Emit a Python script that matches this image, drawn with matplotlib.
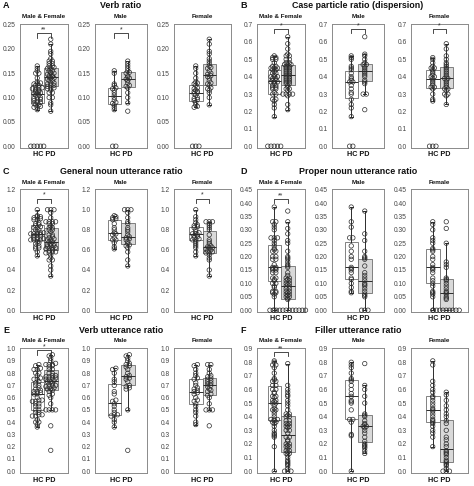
import numpy as np
import matplotlib.pyplot as plt

plt.rcParams['font.family'] = ['Liberation Sans', 'DejaVu Sans']

# ---- data ----
# A Verb ratio
verb_male_hc = [0.155, 0.150, 0.128, 0.125, 0.120, 0.118, 0.115, 0.110, 0.105, 0.100,
                0.095, 0.090, 0.088, 0.085, 0.080, 0.075, 0, 0]
verb_male_pd = [0.175, 0.170, 0.165, 0.160, 0.155, 0.152, 0.150, 0.145, 0.142, 0.140,
                0.138, 0.135, 0.130, 0.125, 0.123, 0.120, 0.110, 0.100, 0.089, 0.072]
verb_female_hc = [0.165, 0.160, 0.150, 0.140, 0.132, 0.130, 0.128, 0.125, 0.120, 0.118,
                  0.115, 0.113, 0.112, 0.110, 0.108, 0.105, 0.100, 0.098, 0.096, 0.094,
                  0.090, 0.085, 0.082, 0.080, 0, 0, 0]
verb_female_pd = [0.220, 0.210, 0.195, 0.190, 0.180, 0.175, 0.170, 0.165, 0.162, 0.160,
                  0.155, 0.150, 0.148, 0.145, 0.143, 0.140, 0.135, 0.130, 0.128, 0.125,
                  0.120, 0.118, 0.115, 0.110, 0.100, 0.085]

# B Case particle ratio (dispersion)
case_male_hc = [0.52, 0.51, 0.50, 0.46, 0.45, 0.44, 0.42, 0.40, 0.39, 0.38, 0.37, 0.37,
                0.35, 0.33, 0.31, 0.30, 0.27, 0.24, 0.22, 0.17, 0, 0]
case_male_pd = [0.63, 0.53, 0.52, 0.50, 0.48, 0.47, 0.47, 0.46, 0.45, 0.44, 0.43, 0.42,
                0.41, 0.40, 0.38, 0.37, 0.36, 0.30, 0.30, 0.21]
case_female_hc = [0.51, 0.50, 0.48, 0.46, 0.45, 0.45, 0.44, 0.43, 0.42, 0.41, 0.40, 0.40,
                  0.39, 0.38, 0.37, 0.36, 0.35, 0.34, 0.34, 0.33, 0.30, 0.27, 0.26, 0, 0, 0]
case_female_pd = [0.59, 0.56, 0.52, 0.50, 0.48, 0.47, 0.46, 0.45, 0.44, 0.43, 0.42, 0.41,
                  0.40, 0.39, 0.39, 0.38, 0.37, 0.36, 0.35, 0.34, 0.33, 0.33, 0.32, 0.30,
                  0.30, 0.29, 0.24]

# C General noun utterance ratio
noun_male_hc = [0.94, 0.93, 0.92, 0.91, 0.90, 0.86, 0.82, 0.80, 0.77, 0.76, 0.75, 0.72,
                0.70, 0.70, 0.67, 0.63, 0.61]
noun_male_pd = [1.0, 1.0, 1.0, 0.97, 0.92, 0.88, 0.86, 0.82, 0.80, 0.78, 0.75, 0.73,
                0.72, 0.71, 0.70, 0.68, 0.66, 0.65, 0.64, 0.62, 0.58, 0.50, 0.44]
noun_female_hc = [1.0, 0.93, 0.90, 0.87, 0.85, 0.84, 0.83, 0.82, 0.80, 0.78, 0.77, 0.76,
                  0.76, 0.75, 0.74, 0.73, 0.72, 0.71, 0.70, 0.70, 0.68, 0.66, 0.64, 0.62,
                  0.58, 0.54]
noun_female_pd = [0.88, 0.88, 0.88, 0.86, 0.84, 0.82, 0.80, 0.75, 0.70, 0.68, 0.66, 0.64,
                  0.63, 0.62, 0.62, 0.61, 0.60, 0.59, 0.58, 0.57, 0.57, 0.55, 0.52, 0.50,
                  0.40, 0.34]

# D Proper noun utterance ratio
proper_male_hc = [0.385, 0.33, 0.31, 0.27, 0.27, 0.24, 0.22, 0.20, 0.19, 0.16, 0.155,
                  0.15, 0.14, 0.12, 0.115, 0.10, 0.085, 0.07, 0.065]
proper_male_pd = [0.37, 0.285, 0.26, 0.22, 0.20, 0.195, 0.19, 0.165, 0.14, 0.13, 0.12,
                  0.11, 0.10, 0.095, 0.09, 0.08, 0.07, 0.06, 0.055, 0.05, 0, 0, 0]
proper_female_hc = [0.33, 0.32, 0.30, 0.27, 0.26, 0.25, 0.23, 0.225, 0.22, 0.20, 0.19,
                    0.17, 0.16, 0.155, 0.15, 0.14, 0.12, 0.11, 0.10, 0.09, 0.07, 0.065,
                    0.06, 0.05, 0]
proper_female_pd = [0.33, 0.305, 0.25, 0.18, 0.17, 0.16, 0.12, 0.115, 0.11, 0.10, 0.09,
                    0.08, 0.07, 0.065, 0.06, 0.05, 0.045, 0.04, 0, 0, 0, 0, 0, 0, 0, 0, 0]

# E Verb utterance ratio
vu_male_hc = [0.84, 0.83, 0.80, 0.75, 0.73, 0.70, 0.65, 0.63, 0.58, 0.57, 0.55, 0.53,
              0.50, 0.48, 0.46, 0.46, 0.45, 0.42, 0.40, 0.36]
vu_male_pd = [0.95, 0.94, 0.92, 0.90, 0.88, 0.87, 0.86, 0.85, 0.83, 0.80, 0.78, 0.77,
              0.76, 0.75, 0.73, 0.70, 0.69, 0.68, 0.67, 0.50, 0.17]
vu_female_hc = [0.87, 0.86, 0.83, 0.80, 0.78, 0.76, 0.75, 0.72, 0.70, 0.68, 0.67, 0.66,
                0.65, 0.64, 0.63, 0.60, 0.58, 0.57, 0.55, 0.53, 0.50, 0.48, 0.45, 0.40, 0.38]
vu_female_pd = [0.87, 0.87, 0.83, 0.80, 0.78, 0.77, 0.76, 0.75, 0.74, 0.73, 0.72, 0.71,
                0.70, 0.69, 0.67, 0.66, 0.65, 0.63, 0.62, 0.60, 0.55, 0.50, 0.50, 0.50, 0.37]

# F Filler utterance ratio
fill_male_hc = [0.80, 0.78, 0.76, 0.72, 0.68, 0.67, 0.66, 0.63, 0.60, 0.57, 0.55, 0.52,
                0.51, 0.50, 0.45, 0.38, 0.38, 0.36, 0.27, 0.26, 0.0]
fill_male_pd = [0.79, 0.63, 0.60, 0.55, 0.50, 0.42, 0.41, 0.40, 0.37, 0.35, 0.34, 0.33,
                0.33, 0.32, 0.30, 0.28, 0.25, 0.22, 0.20, 0.19, 0.18, 0.17, 0.15, 0.13]
fill_female_hc = [0.81, 0.78, 0.66, 0.63, 0.60, 0.58, 0.55, 0.54, 0.52, 0.50, 0.48, 0.46,
                  0.45, 0.44, 0.42, 0.40, 0.38, 0.37, 0.36, 0.35, 0.33, 0.30, 0.28, 0.25, 0.18]
fill_female_pd = [0.58, 0.56, 0.52, 0.48, 0.45, 0.42, 0.40, 0.37, 0.35, 0.30, 0.25, 0.23,
                  0.20, 0.18, 0.15, 0.14, 0.13, 0.12, 0.10, 0.08, 0.07, 0.06, 0.05, 0.04,
                  0.02, 0.0, 0.0, 0.0]

letters = ['A', 'B', 'C', 'D', 'E', 'F']
titles = ['Verb ratio', 'Case particle ratio (dispersion)', 'General noun utterance ratio',
          'Proper noun utterance ratio', 'Verb utterance ratio', 'Filler utterance ratio']
sub_titles = ['Male & Female', 'Male', 'Female']
xlabel = 'HC PD'

yticks_A = [0.00, 0.05, 0.10, 0.15, 0.20, 0.25]
yticks_B = [0.0, 0.1, 0.2, 0.3, 0.4, 0.5, 0.6, 0.7]
yticks_C = [0.0, 0.2, 0.4, 0.6, 0.8, 1.0, 1.2]
yticks_D = [0.00, 0.05, 0.10, 0.15, 0.20, 0.25, 0.30, 0.35, 0.40, 0.45]
yticks_E = [0.0, 0.1, 0.2, 0.3, 0.4, 0.5, 0.6, 0.7, 0.8, 0.9, 1.0]
yticks_F = [0.0, 0.1, 0.2, 0.3, 0.4, 0.5, 0.6, 0.7, 0.8, 0.9]

# significance marks per subplot (M&F, Male, Female): (label, bracket y)
sig_A = [('**', 0.232), ('*', 0.232), None]
sig_B = [('*', 0.675), ('*', 0.675), ('*', 0.675)]
sig_C = [('*', 1.11), None, ('*', 1.11)]
sig_D = [('**', 0.415), None, None]
sig_E = [('*', 0.985), None, None]
sig_F = [('**', 0.875), None, None]

panels = [
    (verb_male_hc, verb_male_pd, verb_female_hc, verb_female_pd, yticks_A, '%.2f', sig_A),
    (case_male_hc, case_male_pd, case_female_hc, case_female_pd, yticks_B, '%.1f', sig_B),
    (noun_male_hc, noun_male_pd, noun_female_hc, noun_female_pd, yticks_C, '%.1f', sig_C),
    (proper_male_hc, proper_male_pd, proper_female_hc, proper_female_pd, yticks_D, '%.2f', sig_D),
    (vu_male_hc, vu_male_pd, vu_female_hc, vu_female_pd, yticks_E, '%.1f', sig_E),
    (fill_male_hc, fill_male_pd, fill_female_hc, fill_female_pd, yticks_F, '%.1f', sig_F),
]

# ---- layout in pixels ----
W, H = 474, 486
col_off = [0, 237]
sub_left = [20, 95, 174]
sub_w = [48, 52, 57]
row_top = [24, 189, 348]
row_bot = [148, 312, 473]
px_per_unit = 13.5

dark = '#2b2b2b'
frame = '#8a8a8a'


def dot_offsets(vals, bw, step):
    # spread values that fall in the same small y bin side by side
    vals = np.asarray(vals, dtype=float)
    order = np.argsort(vals)
    offs = np.zeros(len(vals))
    groups = []
    cur = []
    start = None
    for i in order:
        if start is None or vals[i] - start > bw:
            if cur:
                groups.append(cur)
            cur = [i]
            start = vals[i]
        else:
            cur.append(i)
    if cur:
        groups.append(cur)
    for g in groups:
        n = len(g)
        for k, i in enumerate(g):
            offs[i] = (k - (n - 1) / 2) * step
    return offs


fig = plt.figure(figsize=(W / 100, H / 100), dpi=100)

for p, (mhc, mpd, fhc, fpd, yt, fmt, sigs) in enumerate(panels):
    r, c = p // 2, p % 2
    x0 = col_off[c]
    top, bot = row_top[r], row_bot[r]
    ymax = yt[-1]
    groups = [(mhc + fhc, mpd + fpd), (mhc, mpd), (fhc, fpd)]

    # panel letter and title
    fig.text((x0 + 3) / W, 1 - (top - 18) / H, letters[p], fontsize=6.5,
             fontweight='bold', ha='left', va='center', color='#111111')
    mid = x0 + sub_left[1] + sub_w[1] / 2
    fig.text(mid / W, 1 - (top - 18) / H, titles[p], fontsize=6.4,
             fontweight='bold', ha='center', va='center', color='#111111')

    for j, (hc, pd) in enumerate(groups):
        left = x0 + sub_left[j]
        ax = fig.add_axes([left / W, 1 - bot / H, sub_w[j] / W, (bot - top) / H])
        half = sub_w[j] / 2 / px_per_unit
        ax.set_xlim(1.5 - half, 1.5 + half)
        ax.set_ylim(-0.015 * ymax, ymax * 1.005)

        bp = ax.boxplot([hc, pd], positions=[1, 2], widths=1.0, patch_artist=True,
                        showfliers=False, whis=1.5, capwidths=0.25,
                        medianprops=dict(color=dark, lw=0.7),
                        whiskerprops=dict(color=dark, lw=0.7),
                        capprops=dict(color=dark, lw=0.7),
                        boxprops=dict(edgecolor='#6e6e6e', lw=0.6))
        bp['boxes'][0].set_facecolor('white')
        bp['boxes'][1].set_facecolor('#d9d9d9')

        for pos, vals in zip([1, 2], [hc, pd]):
            offs = dot_offsets(vals, ymax * 0.011, 0.24)
            ax.scatter(pos + offs, vals, s=10, facecolors='none', edgecolors=dark,
                       linewidths=0.5, zorder=3, clip_on=False)

        sig = sigs[j]
        if sig is not None:
            lab, yb = sig
            ytk = yb - ymax * 0.035
            ax.plot([1, 1, 2, 2], [ytk, yb, yb, ytk], color=dark, lw=0.6, clip_on=False)
            ax.text(1.5, yb, lab, fontsize=5, ha='center', va='bottom', color=dark)

        ax.set_yticks(yt)
        ax.set_yticklabels([fmt % v for v in yt])
        ax.set_xticks([])
        ax.tick_params(axis='y', length=0, pad=3, labelsize=4.8, labelcolor='#444444')
        for s in ax.spines.values():
            s.set_color(frame)
            s.set_linewidth(0.7)

        cx = left + sub_w[j] / 2
        fig.text(cx / W, 1 - (top - 7) / H, sub_titles[j], fontsize=4.5,
                 fontweight='bold', ha='center', va='center', color='#111111')
        fig.text(cx / W, 1 - (bot + 7) / H, xlabel, fontsize=5.2, fontweight='bold',
                 ha='center', va='center', color='#111111')

fig.savefig('out.png', dpi=100)
